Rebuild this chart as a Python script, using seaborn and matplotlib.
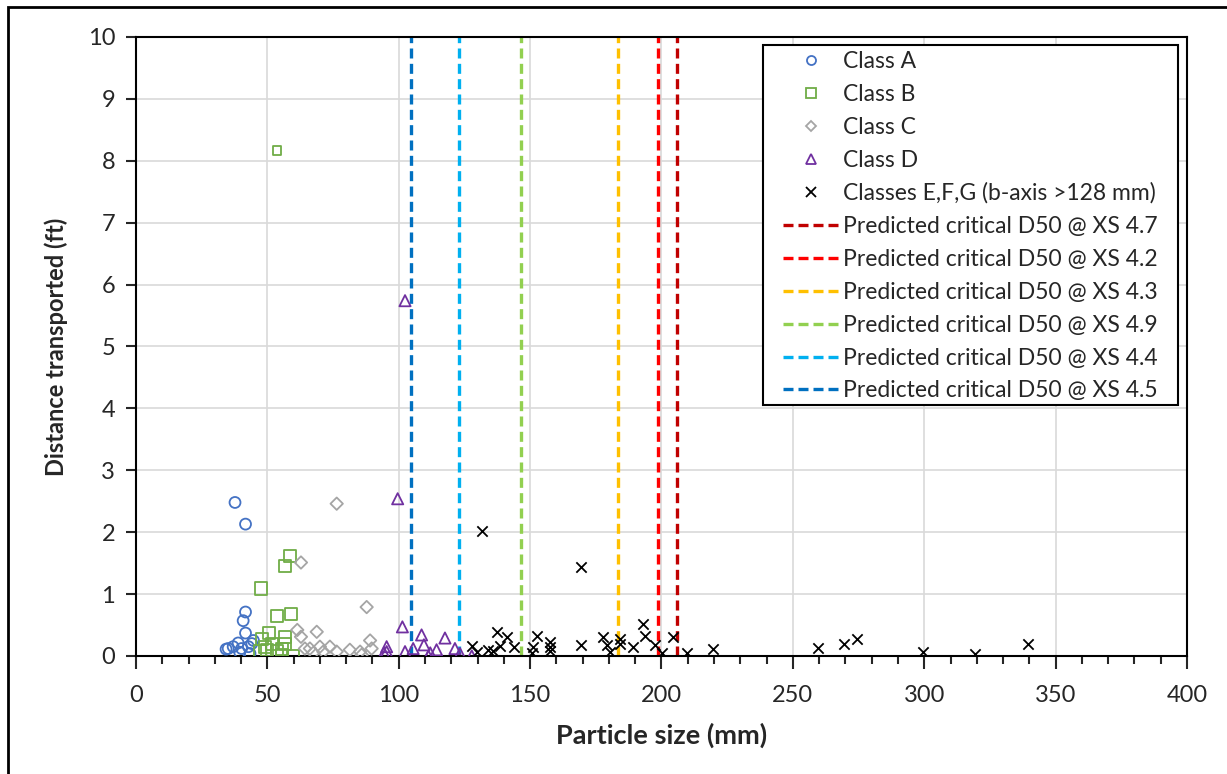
import matplotlib
matplotlib.use("Agg")
import matplotlib.pyplot as plt
from matplotlib.lines import Line2D
from matplotlib.patches import Rectangle
from matplotlib.ticker import MultipleLocator
import seaborn as sns

# Class A (circles)
a_x = [37.7, 41.7, 41.7, 40.8, 41.7, 44.7, 38.9, 35.1, 34.3, 40.2, 42.8, 43.4, 39.5, 44.1, 37.0]
a_y = [2.48, 2.13, 0.71, 0.57, 0.37, 0.25, 0.21, 0.12, 0.11, 0.12, 0.15, 0.04, 0.06, 0.20, 0.15]

# Class B (squares) - first point is the lone 8 ft one
b_x = [53.7, 58.6, 56.7, 47.6, 53.8, 58.9, 50.7, 47.8, 56.7, 56.7, 51.6, 49.1, 55.5, 55.4, 59.9, 53.5, 47.2, 50.0]
b_y = [8.16, 1.61, 1.45, 1.09, 0.65, 0.68, 0.37, 0.27, 0.31, 0.20, 0.20, 0.15, 0.12, 0.02, 0.00, 0.08, 0.08, 0.10]

# Class C (diamonds)
c_x = [76.4, 62.8, 87.8, 61.4, 68.8, 62.8, 89.1, 64.3, 66.2, 70.0, 73.8, 71.3, 76.4, 81.4, 85.9, 85.3, 89.7, 67.5]
c_y = [2.46, 1.51, 0.79, 0.42, 0.39, 0.31, 0.25, 0.12, 0.12, 0.15, 0.15, 0.07, 0.07, 0.10, 0.02, 0.07, 0.12, 0.05]

# Class D (triangles)
d_x = [102.4, 99.6, 101.4, 108.7, 117.6, 109.6, 105.5, 95.4, 95.4, 94.4, 102.4, 111.3, 114.4, 121.4, 123.3, 127.8, 112.0]
d_y = [5.74, 2.54, 0.47, 0.34, 0.29, 0.18, 0.12, 0.15, 0.07, 0.05, 0.07, 0.00, 0.10, 0.12, 0.04, 0.00, 0.05]

# Classes E,F,G (x)
e_x = [131.6, 169.4, 192.8, 137.5, 152.5, 141.3, 177.6, 193.7, 204.5, 157.6, 127.8, 138.5,
       144.0, 151.2, 157.6, 169.4, 179.1, 184.2, 189.3, 197.5, 134.1, 135.9, 157.6, 150.6,
       180.4, 200.1, 209.6, 219.5, 129.7, 259.4, 269.5, 274.5, 299.4, 319.3, 339.4, 184.2]
e_y = [2.02, 1.43, 0.52, 0.39, 0.32, 0.30, 0.30, 0.32, 0.31, 0.23, 0.16, 0.16,
       0.15, 0.15, 0.15, 0.18, 0.18, 0.20, 0.15, 0.18, 0.09, 0.08, 0.08, 0.04,
       0.07, 0.04, 0.05, 0.11, 0.07, 0.13, 0.20, 0.28, 0.06, 0.03, 0.19, 0.27]

# predicted critical D50 per cross section
xs_names = ["4.7", "4.2", "4.3", "4.9", "4.4", "4.5"]
xs_d50 = [205.9, 198.7, 183.6, 146.5, 122.8, 104.5]
xs_colors = ["#C00000", "#FF0000", "#FFC000", "#92D050", "#00B0F0", "#0070C0"]

sns.set_style("white")
plt.rcParams["font.family"] = ["Lato", "DejaVu Sans"]

fig = plt.figure(figsize=(12.27, 7.74), dpi=100)
ax = fig.add_axes([0.1108, 0.1525, 0.8566, 0.7997])

for x, c in zip(xs_d50, xs_colors):
    ax.axvline(x, color=c, lw=2.4, dashes=(3, 1.6), zorder=2)

sns.scatterplot(x=a_x, y=a_y, marker="o", s=62, facecolor="none", edgecolor="#4472C4",
                linewidth=1.3, ax=ax, zorder=3)
sns.scatterplot(x=b_x[:1], y=b_y[:1], marker="s", s=40, facecolor="none", edgecolor="#70AD47",
                linewidth=1.3, ax=ax, zorder=3)
sns.scatterplot(x=b_x[1:], y=b_y[1:], marker="s", s=75, facecolor="none", edgecolor="#70AD47",
                linewidth=1.3, ax=ax, zorder=3)
sns.scatterplot(x=c_x, y=c_y, marker="D", s=40, facecolor="none", edgecolor="#A5A5A5",
                linewidth=1.3, ax=ax, zorder=3)
sns.scatterplot(x=d_x, y=d_y, marker="^", s=65, facecolor="none", edgecolor="#7030A0",
                linewidth=1.3, ax=ax, zorder=3)
sns.scatterplot(x=e_x, y=e_y, marker="x", s=55, color="black", linewidth=1.3, ax=ax, zorder=3)

ax.set_xlim(0, 400)
ax.set_ylim(0, 10)
ax.xaxis.set_major_locator(MultipleLocator(50))
ax.xaxis.set_minor_locator(MultipleLocator(10))
ax.yaxis.set_major_locator(MultipleLocator(1))
ax.grid(True, which="major", color="#D9D9D9", lw=1.2)
ax.set_axisbelow(True)
for s in ax.spines.values():
    s.set_color("black")
    s.set_linewidth(1.5)
ax.tick_params(axis="x", which="major", direction="out", length=9, width=1.5, labelsize=17, pad=12)
ax.tick_params(axis="x", which="minor", direction="out", length=6, width=1.5)
ax.tick_params(axis="y", which="major", direction="out", length=7, width=1.5, labelsize=17, pad=8, left=True)
ax.tick_params(axis="x", bottom=True, which="both")

ax.set_xlabel("Particle size (mm)", fontsize=19.5, fontweight="bold", labelpad=12)
ax.set_ylabel("Distance transported (ft)", fontsize=17, fontweight="bold", labelpad=14)

handles = [
    Line2D([], [], ls="none", marker="o", ms=6.5, mfc="none", mec="#4472C4", mew=1.3),
    Line2D([], [], ls="none", marker="s", ms=6.5, mfc="none", mec="#70AD47", mew=1.3),
    Line2D([], [], ls="none", marker="D", ms=5, mfc="none", mec="#A5A5A5", mew=1.3),
    Line2D([], [], ls="none", marker="^", ms=6.5, mfc="none", mec="#7030A0", mew=1.3),
    Line2D([], [], ls="none", marker="x", ms=6.5, color="black", mew=1.3),
]
labels = ["Class A", "Class B", "Class C", "Class D", "Classes E,F,G (b-axis >128 mm)"]
for name, c in zip(xs_names, xs_colors):
    handles.append(Line2D([], [], color=c, lw=2.4, dashes=(3, 1.5)))
    labels.append(f"Predicted critical D50 @ XS {name}")

# excel-style legend box: wide side margins, drawn separately from the entries
ax.add_patch(Rectangle((0.5966, 0.4048), 0.9914 - 0.5966, 0.987 - 0.4048, transform=ax.transAxes,
                       facecolor="white", edgecolor="black", lw=1.5, zorder=4))
leg = ax.legend(handles, labels, loc="upper right", bbox_to_anchor=(0.9772, 0.987),
                fontsize=16.5, frameon=False, handlelength=2.5, handletextpad=0.12,
                labelspacing=0.52, borderpad=0.25, borderaxespad=0)
leg.set_zorder(5)

fig.patches.append(Rectangle((8 / 1227, -0.1), 1.2, 1.1 - 7 / 774, transform=fig.transFigure,
                             fill=False, edgecolor="black", lw=2, zorder=10))

fig.savefig("out.png", dpi=100)
